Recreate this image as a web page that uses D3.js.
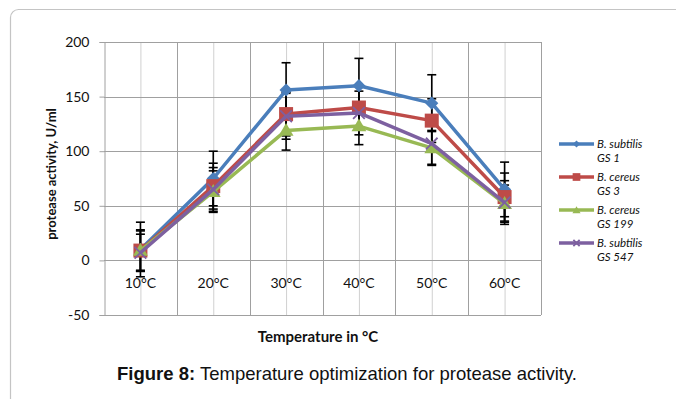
<!DOCTYPE html>
<html>
<head>
<meta charset="utf-8">
<script src="https://cdn.jsdelivr.net/npm/d3@7"></script>
<style>
  body { margin: 0; background: #fff; }
  svg { display: block; }
</style>
</head>
<body>
<svg id="chart"></svg>
<script>
// Chart data
const categories = ['10°C', '20°C', '30°C', '40°C', '50°C', '60°C'];
const seriesNames = [['B. subtilis', 'GS 1'], ['B. cereus', 'GS 3'], ['B. cereus', 'GS 199'], ['B. subtilis', 'GS 547']];
const subtilisGS1 = [10, 75, 156, 160, 144, 65];
const cereusGS3 = [9, 68, 134, 140, 128, 58];
const cereusGS199 = [9, 63, 119, 123, 103, 52];
const subtilisGS547 = [7, 65, 132, 135, 107, 53];
const errGS1 = [25, 25, 25, 25, 26, 25];
const errGS3 = [19, 21, 20, 20, 20, 22];
const errGS199 = [18, 19, 18, 17, 16, 17];
const errGS547 = [17, 20, 21, 20, 19, 20];
const yTicks = [-50, 0, 50, 100, 150, 200];

const width = 676;
const height = 399;

const svg = d3.select('#chart')
    .attr('width', width)
    .attr('height', height);

// frame around the figure
svg.append('rect')
    .attr('x', 10.5).attr('y', 9.5)
    .attr('width', 700).attr('height', 420)
    .attr('rx', 8)
    .attr('fill', 'none')
    .attr('stroke', '#c4c4c4')
    .attr('stroke-width', 1.2);

const plot = { left: 104, right: 541, top: 42, bottom: 315 };

const x = d3.scalePoint()
    .domain(categories)
    .range([plot.left, plot.right])
    .padding(0.5);

const xBand = d3.scaleBand()
    .domain(categories)
    .range([plot.left, plot.right]);

const y = d3.scaleLinear()
    .domain([-50, 200])
    .range([plot.bottom, plot.top]);

// vertical grid: light at category centres, darker at band edges
svg.append('g').selectAll('line')
    .data(categories)
    .join('line')
    .attr('x1', d => x(d) + 0.5).attr('x2', d => x(d) + 0.5)
    .attr('y1', plot.top).attr('y2', plot.bottom)
    .attr('stroke', '#d0d0d0')
    .attr('stroke-width', 1);

svg.append('g').selectAll('line')
    .data(categories.slice(1))
    .join('line')
    .attr('x1', d => Math.round(xBand(d)) + 0.5).attr('x2', d => Math.round(xBand(d)) + 0.5)
    .attr('y1', plot.top).attr('y2', plot.bottom)
    .attr('stroke', '#a0a0a0')
    .attr('stroke-width', 1);

// horizontal grid
svg.append('g').selectAll('line')
    .data(yTicks)
    .join('line')
    .attr('x1', plot.left).attr('x2', plot.right)
    .attr('y1', d => Math.round(y(d)) + 0.5).attr('y2', d => Math.round(y(d)) + 0.5)
    .attr('stroke', '#a0a0a0')
    .attr('stroke-width', 1);

// right border of plot area
svg.append('line')
    .attr('x1', plot.right + 0.5).attr('x2', plot.right + 0.5)
    .attr('y1', plot.top).attr('y2', plot.bottom)
    .attr('stroke', '#a0a0a0');

// y axis
const yAxis = svg.append('g')
    .attr('transform', `translate(${plot.left + 0.5},0)`)
    .call(d3.axisLeft(y).tickValues(yTicks).tickSize(5).tickPadding(10).tickFormat(d => String(d)));
yAxis.select('.domain').attr('stroke', '#a0a0a0');
yAxis.selectAll('.tick line').attr('stroke', '#a0a0a0');
yAxis.selectAll('.tick text')
    .attr('font-family', 'Lato, "Open Sans", sans-serif')
    .attr('font-size', 14)
    .attr('fill', '#111');

// category labels next to the zero line
svg.append('g').selectAll('text')
    .data(categories)
    .join('text')
    .attr('x', d => x(d))
    .attr('y', y(0) + 28)
    .attr('text-anchor', 'middle')
    .attr('font-family', 'Lato, "Open Sans", sans-serif')
    .attr('font-size', 14)
    .attr('fill', '#111')
    .text(d => d);

// axis titles
svg.append('text')
    .attr('transform', `translate(56,174) rotate(-90)`)
    .attr('text-anchor', 'middle')
    .attr('font-family', 'Lato, "Open Sans", sans-serif')
    .attr('font-weight', 'bold')
    .attr('font-size', 13)
    .attr('fill', '#111')
    .text('protease activity, U/ml');

svg.append('text')
    .attr('x', 318)
    .attr('y', 342)
    .attr('text-anchor', 'middle')
    .attr('font-family', 'Lato, "Open Sans", sans-serif')
    .attr('font-weight', 'bold')
    .attr('font-size', 15)
    .attr('fill', '#111')
    .text('Temperature in °C');

// caption
const caption = svg.append('text')
    .attr('x', 347)
    .attr('y', 380)
    .attr('text-anchor', 'middle')
    .attr('font-family', '"Liberation Sans", Arial, sans-serif')
    .attr('font-size', 18.5)
    .attr('fill', '#111');
caption.append('tspan').attr('font-weight', 'bold').text('Figure 8:');
caption.append('tspan').text(' Temperature optimization for protease activity.');

// series
const series = [
    { name: seriesNames[0], values: subtilisGS1, err: errGS1, color: '#4a7ebb', marker: 'diamond' },
    { name: seriesNames[1], values: cereusGS3, err: errGS3, color: '#be4b48', marker: 'square' },
    { name: seriesNames[2], values: cereusGS199, err: errGS199, color: '#98b954', marker: 'triangle' },
    { name: seriesNames[3], values: subtilisGS547, err: errGS547, color: '#7d60a0', marker: 'cross' }
];

// error bars (drawn below the lines)
const errG = svg.append('g');
series.forEach(s => {
    s.values.forEach((v, i) => {
        const cx = x(categories[i]);
        errG.append('line')
            .attr('x1', cx).attr('x2', cx)
            .attr('y1', y(v + s.err[i])).attr('y2', y(v - s.err[i]))
            .attr('stroke', '#000').attr('stroke-width', 1.6);
        [v + s.err[i], v - s.err[i]].forEach(e => {
            errG.append('line')
                .attr('x1', cx - 4.5).attr('x2', cx + 4.5)
                .attr('y1', y(e)).attr('y2', y(e))
                .attr('stroke', '#000').attr('stroke-width', 1.6);
        });
    });
});

const line = d3.line()
    .x((d, i) => x(categories[i]))
    .y(d => y(d));

function drawMarker(g, type, cx, cy, color, scale) {
    const k = scale || 1;
    if (type === 'diamond') {
        g.append('path')
            .attr('d', d3.symbol(d3.symbolDiamond2, 110 * k * k)())
            .attr('transform', `translate(${cx},${cy})`)
            .attr('fill', color);
    } else if (type === 'square') {
        g.append('rect')
            .attr('x', cx - 7 * k).attr('y', cy - 7 * k)
            .attr('width', 14 * k).attr('height', 14 * k)
            .attr('fill', color);
    } else if (type === 'triangle') {
        g.append('path')
            .attr('d', d3.symbol(d3.symbolTriangle, 95 * k * k)())
            .attr('transform', `translate(${cx},${cy + 1})`)
            .attr('fill', color);
    } else {
        g.append('path')
            .attr('d', d3.symbol(d3.symbolX, 90 * k * k)())
            .attr('transform', `translate(${cx},${cy})`)
            .attr('fill', 'none')
            .attr('stroke', color)
            .attr('stroke-width', 1.8);
    }
}

series.forEach(s => {
    const g = svg.append('g');
    g.append('path')
        .datum(s.values)
        .attr('d', line)
        .attr('fill', 'none')
        .attr('stroke', s.color)
        .attr('stroke-width', 3.5)
        .attr('stroke-linejoin', 'round');
    s.values.forEach((v, i) => drawMarker(g, s.marker, x(categories[i]), y(v), s.color));
});

// legend
const legend = svg.append('g');
series.forEach((s, i) => {
    const ly = 144 + i * 33;
    legend.append('line')
        .attr('x1', 559).attr('x2', 594)
        .attr('y1', ly).attr('y2', ly)
        .attr('stroke', s.color)
        .attr('stroke-width', 3.5);
    drawMarker(legend, s.marker, 576.5, ly, s.color, 0.55);
    const t = legend.append('text')
        .attr('font-family', 'Lato, "Open Sans", sans-serif')
        .attr('font-style', 'italic')
        .attr('font-size', 11.5)
        .attr('fill', '#111');
    t.append('tspan').attr('x', 597).attr('y', ly + 4).text(s.name[0]);
    t.append('tspan').attr('x', 597).attr('y', ly + 18).text(s.name[1]);
});
</script>
</body>
</html>
